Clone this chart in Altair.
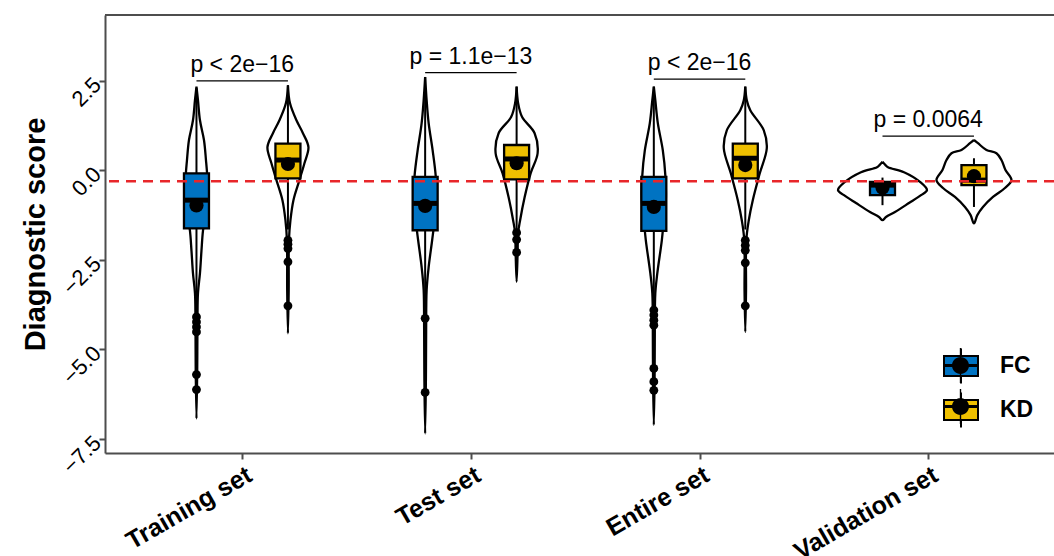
import altair as alt
import pandas as pd

sets = ["Training set", "Test set", "Entire set", "Validation set"]
groups = ["FC", "KD"]
colors = ["#0073C2", "#EFC000"]
cutoff = -0.30

# violin outlines: score value and full violin width (px at original scale)
train_fc_y = [2.34, 1.96, 1.40, 0.85, 0.29, -0.27, -0.83, -1.25, -1.69, -2.24, -2.87, -3.43, -4.18, -5.58, -6.93]
train_fc_w = [0, 3, 7, 15, 19, 22, 22, 18, 13, 10, 7, 3, 2, 1.5, 0]
train_kd_y = [2.38, 1.88, 1.40, 1.04, 0.65, 0.20, -0.27, -0.83, -1.39, -1.95, -3.35, -4.55]
train_kd_w = [0, 4, 17, 30, 41, 33, 23, 11, 5, 2, 1.5, 0]
test_fc_y = [2.61, 1.96, 1.32, 0.56, -0.13, -0.83, -1.39, -1.95, -2.70, -3.34, -4.46, -5.86, -7.35]
test_fc_w = [0, 3, 7, 15, 21, 23, 19, 14, 7, 3, 2, 1.5, 0]
test_kd_y = [2.34, 1.88, 1.49, 1.04, 0.48, -0.08, -0.75, -1.39, -1.75, -2.28, -3.11]
test_kd_w = [0, 3, 11, 36, 42, 28, 16, 7, 3, 2, 0]
entire_fc_y = [2.34, 1.96, 1.32, 0.56, -0.13, -0.83, -1.39, -1.95, -2.87, -3.43, -4.46, -5.86, -7.11]
entire_fc_w = [0, 3, 8, 18, 23, 24, 20, 16, 7, 3, 2, 1.5, 0]
entire_kd_y = [2.34, 1.96, 1.68, 1.12, 0.62, -0.08, -0.83, -1.39, -1.95, -3.35, -4.51]
entire_kd_w = [0, 3, 10, 37, 43, 29, 15, 7, 2, 1.5, 0]
valid_fc_y = [0.24, 0.15, 0.09, -0.05, -0.32, -0.55, -0.69, -0.91, -1.16, -1.30, -1.39]
valid_fc_w = [0, 6, 11, 43, 75, 89, 77, 53, 25, 7, 0]
valid_kd_y = [0.85, 0.76, 0.57, 0.48, 0.29, 0.01, -0.27, -0.49, -0.74, -1.02, -1.24, -1.48]
valid_kd_w = [0, 8, 25, 45, 55, 63, 75, 62, 38, 18, 7, 0]

violins = [
    (0, "FC", train_fc_y, train_fc_w), (0, "KD", train_kd_y, train_kd_w),
    (1, "FC", test_fc_y, test_fc_w), (1, "KD", test_kd_y, test_kd_w),
    (2, "FC", entire_fc_y, entire_fc_w), (2, "KD", entire_kd_y, entire_kd_w),
    (3, "FC", valid_fc_y, valid_fc_w), (3, "KD", valid_kd_y, valid_kd_w),
]

# box statistics, order: Training FC, Training KD, Test FC, Test KD, Entire FC, Entire KD, Validation FC, Validation KD
box_set = [0, 0, 1, 1, 2, 2, 3, 3]
box_grp = ["FC", "KD"] * 4
q1 = [-1.62, -0.22, -1.67, -0.25, -1.69, -0.22, -0.69, -0.41]
median = [-0.83, 0.29, -0.92, 0.32, -0.92, 0.34, -0.41, -0.27]
q3 = [-0.08, 0.75, -0.18, 0.71, -0.18, 0.75, -0.32, 0.15]
whisk_lo = [-3.85, -1.65, -3.85, -1.65, -3.85, -1.65, -0.97, -1.02]
whisk_hi = [2.30, 2.38, 2.61, 2.34, 2.34, 2.34, -0.20, 0.34]
mean = [-0.98, 0.18, -0.99, 0.20, -1.02, 0.15, -0.48, -0.16]

# outliers
out_set = [0] * 6 + [0] * 5 + [1] * 2 + [1] * 3 + [2] * 7 + [2] * 5
out_grp = ["FC"] * 6 + ["KD"] * 5 + ["FC"] * 2 + ["KD"] * 3 + ["FC"] * 7 + ["KD"] * 5
out_val = [-4.09, -4.23, -4.37, -4.51, -5.70, -6.12,
           -1.95, -2.06, -2.18, -2.55, -3.78,
           -4.13, -6.20,
           -1.74, -1.93, -2.29,
           -3.90, -4.04, -4.18, -4.32, -5.53, -5.90, -6.14,
           -1.95, -2.09, -2.23, -2.58, -3.78]

# significance brackets
br_y = [2.50, 2.73, 2.55, 0.96]
p_text = ["p < 2e\u221216", "p = 1.1e\u221213", "p < 2e\u221216", "p = 0.0064"]

W, H = 949, 438
XMIN, XMAX = 0.4, 4.55
YMIN, YMAX = -7.89, 4.34
PX = W / (XMAX - XMIN)
DODGE = 0.2
BOX_HALF = 12.5 / PX


def pos(i, g):
    return i + 1 + (-DODGE if g == "FC" else DODGE)


# closed outline: left side top->bottom, then right side bottom->top
vrows = []
for i, g, ys, ws in violins:
    c = pos(i, g)
    k = 0
    for yv, wv in zip(ys, ws):
        vrows.append({"id": f"{i}{g}", "k": k, "y": yv, "x": c - wv / 2 / PX})
        k += 1
    for yv, wv in list(zip(ys, ws))[-2::-1]:
        vrows.append({"id": f"{i}{g}", "k": k, "y": yv, "x": c + wv / 2 / PX})
        k += 1
vdf = pd.DataFrame(vrows)

bdf = pd.DataFrame({
    "grp": box_grp, "grp2": box_grp,
    "x": [pos(i, g) for i, g in zip(box_set, box_grp)],
    "q1": q1, "med": median, "q3": q3, "lo": whisk_lo, "hi": whisk_hi, "mean": mean,
})
bdf["xl"] = bdf["x"] - BOX_HALF
bdf["xr"] = bdf["x"] + BOX_HALF

odf = pd.DataFrame({"x": [pos(i, g) for i, g in zip(out_set, out_grp)], "y": out_val})

brdf = pd.DataFrame({
    "x1": [pos(i, "FC") for i in range(4)],
    "x2": [pos(i, "KD") for i in range(4)],
    "xm": [i + 1 for i in range(4)],
    "y": br_y, "label": p_text,
})
cdf = pd.DataFrame({"y": [cutoff]})

label_expr = "[" + ",".join(f"'{s}'" for s in sets) + "][datum.value - 1]"
xs = alt.Scale(domain=[XMIN, XMAX], nice=False, zero=False)
ys = alt.Scale(domain=[YMIN, YMAX], nice=False, zero=False)
xax = alt.Axis(values=[1, 2, 3, 4], labelExpr=label_expr, labelAngle=-30, labelAlign="right",
               labelBaseline="top", labelFontSize=25, labelFontWeight="bold", labelColor="black",
               labelOverlap=False, labelFlush=False, labelPadding=3, labelOffset=1,
               tickSize=6, tickWidth=2, tickColor="#4d4d4d", domainColor="#4d4d4d",
               domainWidth=2, grid=False, title=None)
yax = alt.Axis(values=[-7.5, -5, -2.5, 0, 2.5], format=".1f", labelAngle=-45, labelAlign="right",
               labelBaseline="middle", labelFontSize=22, labelColor="black", labelPadding=2,
               labelOverlap=False, labelFlush=False,
               tickSize=6, tickWidth=2, tickColor="#4d4d4d", domainColor="#4d4d4d",
               domainWidth=2, grid=False, title="Diagnostic score", titleFontSize=29,
               titleFontWeight="bold", titleColor="black", titleX=-70, titleBaseline="middle")


def X(f):
    return alt.X(f, scale=xs, axis=xax)


def Y(f):
    return alt.Y(f, scale=ys, axis=yax)


violin = alt.Chart(vdf).mark_line(interpolate="catmull-rom", color="black", strokeWidth=2.3).encode(
    y=Y("y:Q"), x=X("x:Q"), detail="id:N", order="k:Q")

whisk = alt.Chart(bdf).mark_rule(color="black", strokeWidth=2).encode(
    x=X("x:Q"), y=Y("lo:Q"), y2="hi:Q")

rect_path = "M-1,-0.59H1V0.59H-1Z M0,-1.03L0,-0.59 M0,0.59L0,1.03"
boxes = alt.Chart(bdf).mark_rect(stroke="black", strokeWidth=2.3).encode(
    x=X("xl:Q"), x2="xr:Q", y=Y("q1:Q"), y2="q3:Q",
    fill=alt.Fill("grp:N", scale=alt.Scale(domain=groups, range=colors),
                  legend=alt.Legend(title=None, orient="none", legendX=838, legendY=333,
                                    symbolType=rect_path, symbolSize=1156,
                                    symbolStrokeColor="black", symbolStrokeWidth=2,
                                    labelFontSize=23, labelFontWeight="bold", labelColor="black",
                                    labelOffset=21, rowPadding=0, padding=0)))

med = alt.Chart(bdf).mark_rule(color="black", strokeWidth=5).encode(
    x=X("xl:Q"), x2="xr:Q", y=Y("med:Q"))

dot_path = ("M-0.5,0A0.5,0.5,0,1,1,0.5,0A0.5,0.5,0,1,1,-0.5,0Z "
            "M-1,-0.09H1V0.09H-1Z M-0.04,-1.03H0.04V1.03H-0.04Z")
means = alt.Chart(bdf).mark_point(filled=True, color="black", size=201).encode(
    x=X("x:Q"), y=Y("mean:Q"),
    opacity=alt.Opacity("grp2:N", scale=alt.Scale(domain=groups, range=[1, 1]),
                        legend=alt.Legend(title=None, orient="none", legendX=838, legendY=333,
                                          symbolType=dot_path, symbolSize=1156,
                                          symbolFillColor="black", symbolStrokeColor="black",
                                          symbolStrokeWidth=1, labelFontSize=23,
                                          labelFontWeight="bold", labelExpr="''",
                                          labelOffset=21, rowPadding=0, padding=0)))

outl = alt.Chart(odf).mark_point(filled=True, color="black", size=78, opacity=1).encode(
    x=X("x:Q"), y=Y("y:Q"))

redline = alt.Chart(cdf).mark_rule(color="#E8262A", strokeWidth=2.5, strokeDash=[10, 7]).encode(
    y=Y("y:Q"))

brackets = alt.Chart(brdf).mark_rule(color="black", strokeWidth=1.2).encode(
    x=X("x1:Q"), x2="x2:Q", y=Y("y:Q"))

ptext = alt.Chart(brdf).mark_text(fontSize=23, baseline="alphabetic", dy=-9, color="black").encode(
    x=X("xm:Q"), y=Y("y:Q"), text="label:N")

topborder = alt.Chart(cdf).mark_rule(color="#4d4d4d", strokeWidth=2).encode(
    x=alt.value(0), x2=alt.value(W), y=alt.value(0))

chart = alt.layer(violin, whisk, boxes, med, means, outl, redline, brackets, ptext, topborder).properties(
    width=W, height=H,
    autosize=alt.AutoSizeParams(type="none"),
    padding={"left": 105, "top": 15, "right": 0, "bottom": 103},
    background="white",
).resolve_legend(fill="independent", opacity="independent").configure(
    font="Liberation Sans"
).configure_view(stroke=None)

chart.save("out.html", embed_options={"renderer": "svg", "actions": False})
